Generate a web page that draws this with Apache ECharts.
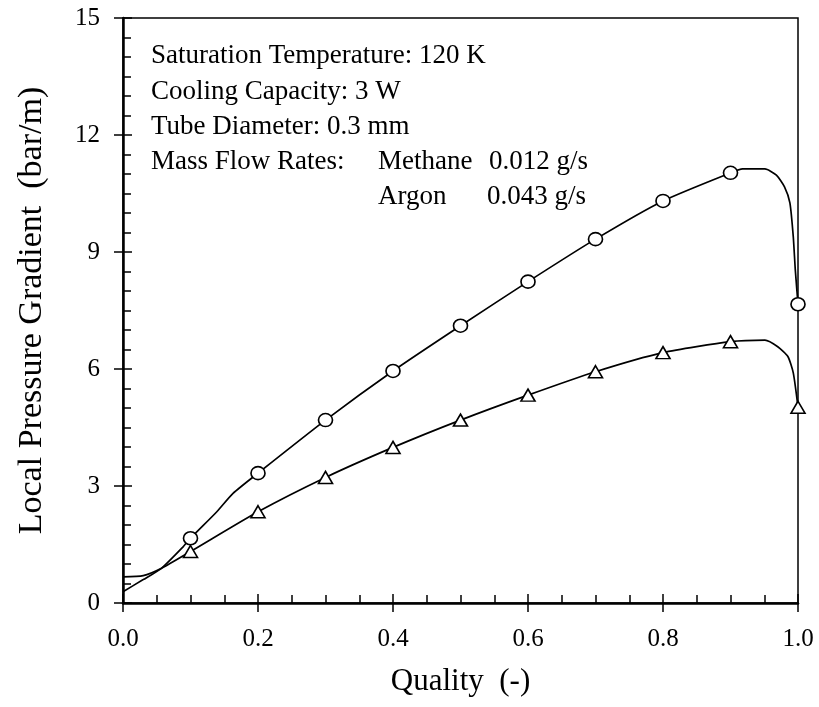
<!DOCTYPE html>
<html>
<head>
<meta charset="utf-8">
<script src="https://cdn.jsdelivr.net/npm/echarts@6/dist/echarts.min.js"></script>
<style>
html,body{margin:0;padding:0;background:#fff;}
#chart{width:819px;height:707px;}
</style>
</head>
<body>
<div id="chart"></div>
<script>
// ---- data ----
const methaneCurveX = [0.0, 0.03, 0.057, 0.089, 0.1, 0.139, 0.163, 0.2, 0.3, 0.4, 0.5, 0.6, 0.7, 0.8, 0.9, 0.918, 0.951, 0.968, 0.98, 0.988, 0.993, 0.996, 1.0];
const methaneCurveY = [0.29, 0.6, 0.89, 1.44, 1.66, 2.34, 2.81, 3.33, 4.69, 5.95, 7.11, 8.24, 9.33, 10.31, 11.03, 11.13, 11.13, 10.97, 10.67, 10.26, 9.39, 8.54, 7.66];
const argonCurveX = [0.0, 0.03, 0.057, 0.1, 0.2, 0.3, 0.4, 0.5, 0.6, 0.7, 0.8, 0.9, 0.951, 0.97, 0.985, 0.993, 1.0];
const argonCurveY = [0.67, 0.70, 0.89, 1.32, 2.34, 3.22, 3.99, 4.69, 5.33, 5.93, 6.42, 6.70, 6.74, 6.57, 6.32, 5.90, 5.02];
const markerX = [0.1, 0.2, 0.3, 0.4, 0.5, 0.6, 0.7, 0.8, 0.9, 1.0];
const methaneMarkerY = [1.66, 3.33, 4.69, 5.95, 7.11, 8.24, 9.33, 10.31, 11.03, 7.66];
const argonMarkerY = [1.32, 2.34, 3.22, 3.99, 4.69, 5.33, 5.93, 6.42, 6.70, 5.02];
const xTickLabels = ['0.0', '0.2', '0.4', '0.6', '0.8', '1.0'];
const yTickLabels = ['0', '3', '6', '9', '12', '15'];
const xTitle = 'Quality  (-)';
const yTitle = 'Local Pressure Gradient  (bar/m)';
const noteLines = ['Saturation Temperature: 120 K', 'Cooling Capacity: 3 W', 'Tube Diameter: 0.3 mm', 'Mass Flow Rates:'];
const flowNames = ['Methane', 'Argon'];
const flowValues = ['0.012 g/s', '0.043 g/s'];

const pair = (xs, ys) => xs.map((x, i) => [x, ys[i]]);
const FONT = 'Liberation Serif';
const chart = echarts.init(document.getElementById('chart'), null, {renderer: 'canvas'});

const noteFont = 27;
const graphics = [];
const noteBase = [66, 101.5, 136.5, 171.5];
noteLines.forEach((t, i) => graphics.push({type: 'text', left: 151, top: noteBase[i] - noteFont * 0.86,
  style: {text: t, font: noteFont + 'px "' + FONT + '"', fill: '#000'}}));
const flowBase = [171.5, 206.5];
const valX = [489, 487];
flowNames.forEach((t, i) => {
  graphics.push({type: 'text', left: 378, top: flowBase[i] - noteFont * 0.86,
    style: {text: t, font: noteFont + 'px "' + FONT + '"', fill: '#000'}});
  graphics.push({type: 'text', left: valX[i], top: flowBase[i] - noteFont * 0.86,
    style: {text: flowValues[i], font: noteFont + 'px "' + FONT + '"', fill: '#000'}});
});

const xFmt = v => { const i = Math.round(v / 0.2); return Math.abs(v - i * 0.2) < 1e-6 ? xTickLabels[i] : ''; };
const yFmt = v => { const i = Math.round(v / 3); return Math.abs(v - i * 3) < 1e-6 ? yTickLabels[i] : ''; };

const option = {
  backgroundColor: '#fff',
  animation: false,
  textStyle: {fontFamily: FONT, color: '#000'},
  grid: {left: 123, right: 21, top: 18, bottom: 104, show: true, borderColor: '#000', borderWidth: 1.5, backgroundColor: 'transparent'},
  xAxis: [{
    type: 'value', min: 0, max: 1, interval: 0.2, position: 'bottom',
    name: xTitle, nameLocation: 'middle', nameGap: 63,
    nameTextStyle: {fontFamily: FONT, fontSize: 31, color: '#000'},
    axisLine: {show: true, onZero: false, lineStyle: {color: '#000', width: 2.5}},
    axisTick: {show: true, inside: true, length: 9, lineStyle: {color: '#000', width: 1.5}},
    minorTick: {show: true, splitNumber: 4, length: 8, lineStyle: {color: '#000', width: 1.5}},
    axisLabel: {fontFamily: FONT, fontSize: 25, color: '#000', margin: 24, formatter: xFmt},
    splitLine: {show: false}
  }, {
    type: 'value', min: 0, max: 1, interval: 0.2, position: 'bottom', offset: 0,
    axisLine: {show: false, onZero: false},
    axisTick: {show: true, inside: false, length: 9, lineStyle: {color: '#000', width: 1.5}},
    axisLabel: {show: false},
    splitLine: {show: false}
  }],
  yAxis: [{
    type: 'value', min: 0, max: 15, interval: 3, position: 'left',
    name: yTitle, nameLocation: 'middle', nameGap: 74,
    nameTextStyle: {fontFamily: FONT, fontSize: 34, color: '#000'},
    axisLine: {show: true, onZero: false, lineStyle: {color: '#000', width: 2.5}},
    axisTick: {show: true, inside: true, length: 9, lineStyle: {color: '#000', width: 1.5}},
    minorTick: {show: true, splitNumber: 6, length: 8, lineStyle: {color: '#000', width: 1.5}},
    axisLabel: {fontFamily: FONT, fontSize: 25, color: '#000', margin: 23, formatter: yFmt},
    splitLine: {show: false}
  }, {
    type: 'value', min: 0, max: 15, interval: 3, position: 'left', offset: 0,
    axisLine: {show: false, onZero: false},
    axisTick: {show: true, inside: false, length: 9, lineStyle: {color: '#000', width: 1.5}},
    axisLabel: {show: false},
    splitLine: {show: false}
  }],
  graphic: graphics,
  series: [
    {name: 'Methane', type: 'line', data: pair(methaneCurveX, methaneCurveY), showSymbol: false, symbol: 'none',
      smooth: 0.2, lineStyle: {color: '#000', width: 1.7}, z: 2},
    {name: 'Argon', type: 'line', data: pair(argonCurveX, argonCurveY), showSymbol: false, symbol: 'none',
      smooth: 0.2, lineStyle: {color: '#000', width: 1.7}, z: 2},
    {name: 'Methane points', type: 'scatter', data: pair(markerX, methaneMarkerY), symbol: 'circle', symbolSize: [14, 13],
      itemStyle: {color: '#fff', borderColor: '#000', borderWidth: 1.6, opacity: 1}, z: 5},
    {name: 'Argon points', type: 'scatter', data: pair(markerX, argonMarkerY), symbol: 'triangle', symbolSize: [14, 12],
      itemStyle: {color: '#fff', borderColor: '#000', borderWidth: 1.6, opacity: 1}, z: 5}
  ]
};
chart.setOption(option);
</script>
</body>
</html>
